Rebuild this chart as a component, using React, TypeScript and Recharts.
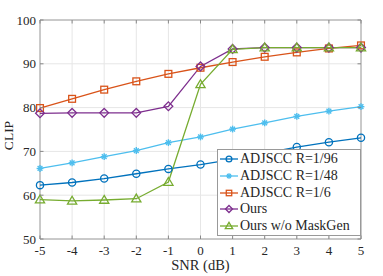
import * as React from 'react';
import { LineChart, Line, XAxis, YAxis, CartesianGrid, ReferenceArea, Label } from 'recharts';

const snr = [-5, -4, -3, -2, -1, 0, 1, 2, 3, 4, 5];
const adjscc96 = [62.3, 62.9, 63.8, 64.9, 66.0, 67.0, 68.2, 69.6, 71.0, 72.1, 73.1];
const adjscc48 = [66.1, 67.4, 68.8, 70.2, 72.0, 73.3, 75.1, 76.5, 78.0, 79.2, 80.2];
const adjscc6 = [79.9, 82.0, 84.1, 86.0, 87.7, 89.1, 90.4, 91.6, 92.6, 93.5, 94.2];
const ours = [78.7, 78.8, 78.8, 78.8, 80.3, 89.4, 93.4, 93.7, 93.7, 93.7, 93.7];
const oursNoMask = [59.0, 58.7, 58.9, 59.2, 63.0, 85.3, 93.3, 93.7, 93.7, 93.7, 93.7];
const yTicks = [50, 60, 70, 80, 90, 100];

const series = [
  { key: 'r96', name: 'ADJSCC R=1/96', color: '#0072BD', shape: 'circle' },
  { key: 'r48', name: 'ADJSCC R=1/48', color: '#4DBEEE', shape: 'star' },
  { key: 'r6', name: 'ADJSCC R=1/6', color: '#D95319', shape: 'square' },
  { key: 'ours', name: 'Ours', color: '#7E2F8E', shape: 'diamond' },
  { key: 'noMask', name: 'Ours w/o MaskGen', color: '#77AC30', shape: 'triangle' },
];

const data = snr.map((s, i) => ({
  snr: s,
  r96: adjscc96[i],
  r48: adjscc48[i],
  r6: adjscc6[i],
  ours: ours[i],
  noMask: oursNoMask[i],
}));

const FONT = "'Liberation Serif', 'DejaVu Serif', serif";
const TXT = '#262626';

function Marker({ cx, cy, shape, color, s = 1 }: any) {
  if (cx == null || cy == null) return null;
  const sw = 1.3;
  if (shape === 'circle') return <circle cx={cx} cy={cy} r={3.6 * s} fill="none" stroke={color} strokeWidth={sw} />;
  if (shape === 'square') {
    const h = 3.4 * s;
    return <rect x={cx - h} y={cy - h} width={2 * h} height={2 * h} fill="none" stroke={color} strokeWidth={sw} />;
  }
  if (shape === 'diamond') {
    const h = 4.4 * s;
    return <polygon points={`${cx},${cy - h} ${cx + h},${cy} ${cx},${cy + h} ${cx - h},${cy}`} fill="none" stroke={color} strokeWidth={sw} />;
  }
  if (shape === 'triangle') {
    const h = 4.6 * s;
    return <polygon points={`${cx},${cy - h} ${cx + h},${cy + h * 0.7} ${cx - h},${cy + h * 0.7}`} fill="none" stroke={color} strokeWidth={sw} />;
  }
  const r = 3.4 * s;
  return (
    <g stroke={color} strokeWidth={1.4}>
      <line x1={cx - r} y1={cy} x2={cx + r} y2={cy} />
      <line x1={cx} y1={cy - r} x2={cx} y2={cy + r} />
      <line x1={cx - r * 0.7} y1={cy - r * 0.7} x2={cx + r * 0.7} y2={cy + r * 0.7} />
      <line x1={cx - r * 0.7} y1={cy + r * 0.7} x2={cx + r * 0.7} y2={cy - r * 0.7} />
    </g>
  );
}

function XTick({ x, y, payload }: any) {
  return (
    <g>
      <line x1={x} y1={239} x2={x} y2={235.5} stroke="#888" />
      <line x1={x} y1={20} x2={x} y2={23.5} stroke="#888" />
      <text x={x} y={y + 9} textAnchor="middle" fontFamily={FONT} fontSize={13} fill={TXT}>
        {payload.value}
      </text>
    </g>
  );
}

function YTick({ x, y, payload }: any) {
  return (
    <g>
      <line x1={40} y1={y} x2={43.5} y2={y} stroke="#888" />
      <line x1={361} y1={y} x2={357.5} y2={y} stroke="#888" />
      <text x={x} y={y + 4.5} textAnchor="end" fontFamily={FONT} fontSize={13} fill={TXT}>
        {payload.value}
      </text>
    </g>
  );
}

function LegendBox() {
  return (
    <div
      style={{
        position: 'absolute',
        left: 217,
        top: 149,
        border: '1px solid #999',
        background: '#fff',
        width: 144,
        height: 87,
        boxSizing: 'border-box',
        paddingTop: 1,
        fontFamily: FONT,
        fontSize: 14,
        color: TXT,
      }}
    >
      {series.map((s) => (
        <div key={s.key} style={{ display: 'flex', alignItems: 'center', height: 16.7 }}>
          <svg width={22} height={16} style={{ flex: 'none' }}>
            <line x1={2} y1={8} x2={20} y2={8} stroke={s.color} strokeWidth={1.3} />
            <Marker cx={11} cy={8} shape={s.shape} color={s.color} s={0.8} />
          </svg>
          <span style={{ marginLeft: 0, whiteSpace: 'nowrap', lineHeight: '16px' }}>{s.name}</span>
        </div>
      ))}
    </div>
  );
}

export default function App() {
  return (
    <div style={{ position: 'absolute', left: 0, top: 0, width: 383, height: 276, background: '#fff', fontFamily: FONT }}>
      <LineChart
        width={383}
        height={276}
        data={data}
        margin={{ top: 20, right: 22, left: 0, bottom: 0 }}
        style={{ fontFamily: FONT }}
      >
        <CartesianGrid stroke="#e6e6e6" strokeWidth={1} />
        <XAxis
          dataKey="snr"
          type="number"
          domain={[-5, 5]}
          ticks={snr}
          height={37}
          tickSize={0}
          tickMargin={7}
          axisLine={false}
          tickLine={false}
          tick={<XTick />}
        >
          <Label
            content={() => (
              <text x={200.5} y={270} textAnchor="middle" fontFamily={FONT} fontSize={14.5} fill={TXT}>
                SNR (dB)
              </text>
            )}
          />
        </XAxis>
        <YAxis
          type="number"
          domain={[50, 100]}
          ticks={yTicks}
          width={40}
          tickSize={0}
          tickMargin={4}
          axisLine={false}
          tickLine={false}
          tick={<YTick />}
        >
          <Label
            content={(props: any) => {
              const vb = props.viewBox || {};
              const cx = 8;
              const cy = (vb.y ?? 20) + (vb.height ?? 219) / 2 + 6;
              return (
                <text
                  x={cx}
                  y={cy}
                  transform={`rotate(-90 ${cx} ${cy})`}
                  textAnchor="middle"
                  dominantBaseline="central"
                  fontFamily={FONT}
                  fontSize={13.5}
                  fill={TXT}
                >
                  CLIP
                </text>
              );
            }}
          />
        </YAxis>
        <ReferenceArea x1={-5} x2={5} y1={50} y2={100} fill="none" stroke="#a0a0a0" strokeWidth={1} ifOverflow="visible" />
        {series.map((s) => (
          <Line
            key={s.key}
            dataKey={s.key}
            name={s.name}
            stroke={s.color}
            strokeWidth={1.3}
            isAnimationActive={false}
            dot={(p: any) => <Marker key={`${s.key}-${p.index}`} cx={p.cx} cy={p.cy} shape={s.shape} color={s.color} />}
            activeDot={false}
          />
        ))}
      </LineChart>
      <LegendBox />
    </div>
  );
}
